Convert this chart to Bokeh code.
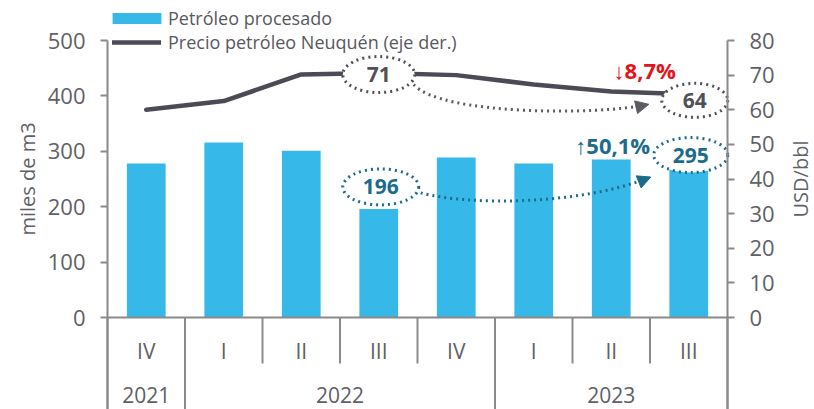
import math
from bokeh.plotting import figure
from bokeh.models import (Range1d, LinearAxis, FixedTicker, ColumnDataSource,
                          Legend, LegendItem, Arrow, NormalHead)
from bokeh.core.properties import value
from bokeh.embed import file_html
from bokeh.resources import INLINE

# ---------------- data ----------------
years = ["2021", "2022", "2022", "2022", "2022", "2023", "2023", "2023"]
quarters = ["IV", "I", "II", "III", "IV", "I", "II", "III"]
processed = [278, 316, 301, 196, 289, 278, 285, 295]          # miles de m3
price = [60.0, 62.5, 70.2, 70.6, 70.0, 67.3, 65.3, 64.45]      # USD/bbl
left_ticks = [0, 100, 200, 300, 400, 500]
right_ticks = [0, 10, 20, 30, 40, 50, 60, 70, 80]
bar_change = "\u219150,1%"
price_change = "\u21938,7%"
series_names = ["Petróleo procesado", "Precio petróleo Neuquén (eje der.)"]
axis_titles = ["miles de m3", "USD/bbl"]

# ---------------- style ----------------
FONT = "Open Sans"
BLUE = "#36b8e8"
LINE = "#4a4b55"
TEAL = "#1d6b8b"
RED = "#e3131b"
AXIS = "#8a8a8a"
TXT = "#606066"
DOT_GREY = "#5b5b63"

W, H = 814, 409
FL, FR, FT, FB = 107, 727, 40, 317          # plotting-area box in px
n = len(quarters)
PXC = (FR - FL) / n
PXL = (FB - FT) / left_ticks[-1]
PXR = (FB - FT) / right_ticks[-1]

xpos = [i + 0.5 for i in range(n)]

p = figure(width=W, height=H, output_backend="svg", toolbar_location=None,
           x_range=Range1d(-FL / PXC, (W - FL) / PXC),
           y_range=Range1d(-(H - FB) / PXL, FB / PXL),
           x_axis_location=None, min_border=0, outline_line_color=None,
           background_fill_color="white", border_fill_color="white")
p.min_border_left = p.min_border_right = p.min_border_top = p.min_border_bottom = 0
p.extra_y_ranges = {"price": Range1d(-(H - FB) / PXR, FB / PXR)}
p.xgrid.grid_line_color = None
p.ygrid.grid_line_color = None


def style_axis(ax):
    ax.axis_line_color = AXIS
    ax.axis_line_width = 2
    ax.major_tick_line_color = AXIS
    ax.major_tick_line_width = 2
    ax.major_tick_in = 0
    ax.major_tick_out = 7
    ax.minor_tick_line_color = None
    ax.major_label_text_font = FONT
    ax.major_label_text_font_size = "22px"
    ax.major_label_text_color = TXT
    ax.major_label_standoff = 15


lax = p.yaxis[0]
lax.ticker = FixedTicker(ticks=left_ticks)
lax.fixed_location = 0
lax.bounds = (-(H - FB) / PXL, left_ticks[-1])
style_axis(lax)

rax = LinearAxis(y_range_name="price", ticker=FixedTicker(ticks=right_ticks),
                 fixed_location=n, bounds=(-(H - FB) / PXR, right_ticks[-1]))
style_axis(rax)
p.add_layout(rax, "right")

# axis titles
p.text(x=[-80 / PXC], y=[left_ticks[-1] / 2], text=[axis_titles[0]], angle=math.pi / 2,
       text_align="center", text_baseline="middle", text_font=value(FONT),
       text_font_size="20px", text_color=TXT)
p.text(x=[n + 73 / PXC], y=[right_ticks[-1] / 2], text=[axis_titles[1]], angle=math.pi / 2,
       y_range_name="price", text_align="center", text_baseline="middle",
       text_font=value(FONT), text_font_size="20px", text_color=TXT)

# ---------------- bars and line ----------------
src = ColumnDataSource(dict(x=xpos, processed=processed, price=price))
bars = p.vbar(x="x", top="processed", width=0.5, source=src, fill_color=BLUE, line_color=None)
line = p.line(x="x", y="price", source=src, y_range_name="price", line_color=LINE,
              line_width=4.5, line_join="round", line_cap="round")

# baseline
p.segment(x0=[0], y0=[0], x1=[n], y1=[0], line_color=AXIS, line_width=2)

# ---------------- category labels and separators ----------------
long_x = [0] + [i for i in range(1, n) if years[i] != years[i - 1]] + [n]
short_x = [i for i in range(1, n) if years[i] == years[i - 1]]
y_bottom = -(H - FB) / PXL
y_short = -46 / PXL
p.segment(x0=long_x, y0=[0] * len(long_x), x1=long_x, y1=[y_bottom] * len(long_x),
          line_color=AXIS, line_width=2)
p.segment(x0=short_x, y0=[0] * len(short_x), x1=short_x, y1=[y_short] * len(short_x),
          line_color=AXIS, line_width=2)

p.text(x=xpos, y=[-33 / PXL] * n, text=quarters, text_align="center",
       text_baseline="middle", text_font=value(FONT), text_font_size="21px", text_color=TXT)
uy = list(dict.fromkeys(years))
ux = [sum(x for x, y in zip(xpos, years) if y == yy) / years.count(yy) for yy in uy]
p.text(x=ux, y=[-77 / PXL] * len(uy), text=uy, text_align="center",
       text_baseline="middle", text_font=value(FONT), text_font_size="21px", text_color=TXT)

# ---------------- annotations ----------------
ia = 3   # III 2022
ib = 7   # III 2023


def pt(i, v, dxp, dyp, scale):
    """anchor (category i, value v) shifted by dxp px right and dyp px down"""
    return xpos[i] + dxp / PXC, v - dyp / scale


# dotted curves with heads
g0 = pt(ia, price[ia], 35, 11.5, PXR)
gc0 = pt(ia, price[ia], 62, 42.5, PXR)
gc1 = pt(ib, price[ib], -88, 21, PXR)
g1 = pt(ib, price[ib], -40, 10, PXR)
p.bezier(x0=[g0[0]], y0=[g0[1]], x1=[g1[0]], y1=[g1[1]], cx0=[gc0[0]], cy0=[gc0[1]],
         cx1=[gc1[0]], cy1=[gc1[1]], y_range_name="price", line_color=DOT_GREY,
         line_width=3, line_dash="2 4")
p.add_layout(Arrow(x_start=gc1[0], y_start=gc1[1], x_end=g1[0], y_end=g1[1],
                   y_range_name="price", line_alpha=0,
                   end=NormalHead(size=13, fill_color=DOT_GREY, line_color=DOT_GREY)))

t0 = pt(ia, processed[ia], 42, -16, PXL)
tc0 = pt(ia, processed[ia], 92, -3, PXL)
tc1 = pt(ib, processed[ib], -108, 51, PXL)
t1 = pt(ib, processed[ib], -38, 23, PXL)
p.bezier(x0=[t0[0]], y0=[t0[1]], x1=[t1[0]], y1=[t1[1]], cx0=[tc0[0]], cy0=[tc0[1]],
         cx1=[tc1[0]], cy1=[tc1[1]], line_color=TEAL, line_width=3, line_dash="2 4")
p.add_layout(Arrow(x_start=tc1[0], y_start=tc1[1], x_end=t1[0], y_end=t1[1], line_alpha=0,
                   end=NormalHead(size=13, fill_color=TEAL, line_color=TEAL)))


def bubble(c, w, h, txt, color, rng=None):
    kw = {"y_range_name": rng} if rng else {}
    p.ellipse(x=[c[0]], y=[c[1]], width=w, height=h, width_units="screen",
              height_units="screen", fill_color="white", line_color=color,
              line_width=3, line_dash="2 4", **kw)
    p.text(x=[c[0]], y=[c[1]], text=[txt], text_align="center", text_baseline="middle",
           text_font=value(FONT), text_font_size="21px", text_font_style="bold",
           text_color=color, **kw)


bubble(pt(ia, price[ia], 0, 1.5, PXR), 72, 36, f"{round(price[ia])}", "#505058", "price")
bubble(pt(ib, price[ib], 6, 6, PXR), 66, 34, f"{round(price[ib])}", "#505058", "price")
bubble(pt(ia, processed[ia], 2, -22, PXL), 76, 36, f"{round(processed[ia])}", TEAL)
bubble(pt(ib, processed[ib], 2, 1, PXL), 74, 35, f"{round(processed[ib])}", TEAL)

rc = pt(ib, price[ib], -44, -24, PXR)
p.text(x=[rc[0]], y=[rc[1]], text=[price_change], y_range_name="price", text_align="center",
       text_baseline="middle", text_font=value(FONT), text_font_size="22px",
       text_font_style="bold", text_color=RED)
tcx = pt(ib, processed[ib], -76, -9, PXL)
p.text(x=[tcx[0]], y=[tcx[1]], text=[bar_change], text_align="center",
       text_baseline="middle", text_font=value(FONT), text_font_size="22px",
       text_font_style="bold", text_color=TEAL)

# ---------------- legends ----------------
common = dict(border_line_color=None, background_fill_alpha=0, padding=0, margin=0,
              spacing=0, label_height=25, label_text_font=FONT, label_text_font_size="18px",
              label_text_color="#58585e")
leg1 = Legend(items=[LegendItem(label=series_names[0], renderers=[bars])],
              location=(106, H - 30), glyph_width=61, glyph_height=14, label_standoff=1,
              **common)
leg2 = Legend(items=[LegendItem(label=series_names[1], renderers=[line])],
              location=(112, H - 54.5), glyph_width=49, glyph_height=14, label_standoff=7,
              **common)
p.add_layout(leg1)
p.add_layout(leg2)

open("out.html", "w").write(file_html(p, INLINE))
